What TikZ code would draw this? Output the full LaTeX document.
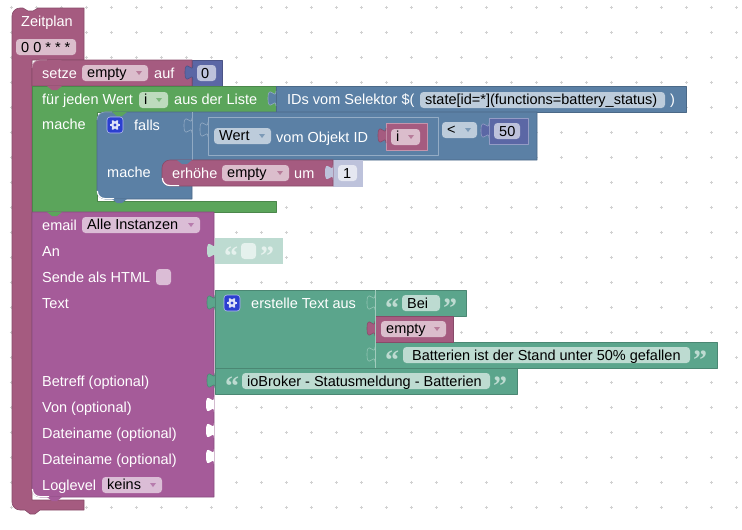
\documentclass[tikz,border=0pt]{standalone}
\usepackage{fontspec}
\setmainfont{Liberation Sans}
\newfontfamily\quotefont{Liberation Serif}
\definecolor{zeitc}{HTML}{A55B80}
\definecolor{zeitf}{HTML}{DBBDCC}
\definecolor{loopc}{HTML}{5BA55B}
\definecolor{loopf}{HTML}{BDDBBD}
\definecolor{logc}{HTML}{5B80A5}
\definecolor{logf}{HTML}{BDCCDB}
\definecolor{numc}{HTML}{5B67A5}
\definecolor{numf}{HTML}{BDC2DB}
\definecolor{numl}{HTML}{E5E7F1}
\definecolor{textc}{HTML}{5BA58C}
\definecolor{textf}{HTML}{BDDBD1}
\definecolor{textl}{HTML}{E5F1ED}
\definecolor{mailc}{HTML}{A55B99}
\definecolor{mailf}{HTML}{DBBDD6}
\definecolor{gearc}{HTML}{2B3FD0}
\tikzset{
  lbl/.style={anchor=base west,inner sep=0pt,text=white,font=\fontsize{14.5}{17}\selectfont},
  val/.style={anchor=base west,inner sep=0pt,text=black,font=\fontsize{14.5}{17}\selectfont},
  quo/.style={anchor=base west,inner sep=0pt,font=\quotefont\bfseries\fontsize{28}{28}\selectfont},
  blk/.style={fill=#1,draw=#1!82!black,line width=0.6pt,line join=round},
  lite/.style={fill=#1,draw=white!35!#1,line width=0.6pt,line join=round},
  tick/.style={draw=black!18,line width=0.6pt},
  glow/.style={draw=white,line width=1.2pt},
}
\newcommand{\pill}[5]{\fill[#5,rounded corners=3.5pt] (#1,#3) rectangle (#2,#4);}
\newcommand{\field}[7]{%
  \fill[#6,rounded corners=3.5pt] (#2,#4) rectangle (#3,#4+16);
  \node[val] (#1) at (#2+5,#4+12.5) {#5};
  \fill[#7!80!white] (#3-12,#4+6) -- (#3-6,#4+6) -- (#3-9,#4+10) -- cycle;}
\newcommand{\nub}[3]{\path[#3] (#1,#2) .. controls (#1,#2+10) and (#1-8,#2-8) .. (#1-8,#2+7.5)
  .. controls (#1-8,#2+23) and (#1,#2+5) .. (#1,#2+15);}
\newcommand{\tab}[3]{\fill[#3] (#1,#2) -- (#1+5,#2+4) -- (#1+10,#2+4) -- (#1+15,#2) -- cycle;}
\newcommand{\gear}[3]{%
  \draw[fill=gearc,draw=white!65!gearc,rounded corners=3pt,line width=0.6pt] (#2,#3) rectangle (#2+16,#3+16);
  \foreach \a in {0,60,...,300} {\draw[white!85!gearc,line width=1.8pt] (#2+8,#3+8) -- ++(\a:5.2);}
  \fill[white!85!gearc] (#2+8,#3+8) circle (3.9pt);
  \fill[gearc] (#2+8,#3+8) circle (1.7pt);
  \coordinate (#1) at (#2+8,#3+8);}
\newcommand{\quotes}[5]{%
  \node[quo,text=#5] (#1a) at (#2,#4) {“};
  \node[quo,text=#5] (#1b) at (#3,#4) {”};}
\begin{document}
\begin{tikzpicture}[x=1pt,y=-1pt]
  \useasboundingbox (0,0) rectangle (742,530);
  \foreach \x in {11,36,...,736} \foreach \y in {7,32,...,507}
    {\draw[tick] (\x-1.5,\y) -- (\x+1.5,\y) (\x,\y-1.5) -- (\x,\y+1.5);}

  \path[blk=zeitc] (12,16) .. controls (12,11.6) and (15.6,8) .. (20,8) -- (23,8) -- (28,11) -- (33,11) -- (38,8) -- (84,8) -- (84,60) -- (32,60)
    -- (32,500) -- (84,500) -- (84,510) -- (40,510) -- (35,514) -- (30,514) -- (25,510) -- (20,510) .. controls (15.6,510) and (12,506.4) .. (12,502) -- cycle;
  \node[lbl] (zeitplan) at (21,26) {Zeitplan};
  \pill{16}{76}{39}{55}{zeitf}
  \node[val] (cron) at (21,52) {0 0 * * *};

  \path[blk=numc] (192,60) rectangle (222,86);
  \path[blk=zeitc] (32,68) .. controls (32,63.6) and (35.6,60) .. (40,60) -- (192,60) -- (192,86) -- (32,86) -- cycle;
  \draw[zeitf!55!zeitc,line width=0.6pt] (32,68) .. controls (32,63.6) and (35.6,60) .. (40,60) -- (47,60);
  \tab{47}{60}{zeitc}
  \nub{193}{65}{blk=numc}
  \pill{197}{216}{65}{81}{numf}
  \node[val] (zero) at (201,78) {0};
  \node[lbl] (setze) at (42,78) {setze};
  \field{setvar}{82}{148}{65}{empty}{zeitf}{zeitc}
  \node[lbl] (auf) at (154,78) {auf};

  \path[blk=loopc] (32,86) -- (276,86) -- (276,112) -- (97,112) -- (97,201) -- (276,201) -- (276,212) -- (32,212) -- cycle;
  \tab{47}{86}{zeitc}
  \node[lbl] (jeden) at (42,104) {für jeden Wert};
  \field{loopvar}{139}{168}{92}{i}{loopf}{loopc}
  \node[lbl] (liste) at (174,104) {aus der Liste};
  \node[lbl] (mache) at (42,129) {mache};

  \path[blk=logc] (276,86) rectangle (686,112);
  \nub{276}{91}{lite=logc}
  \node[lbl] (selektor) at (287,104) {IDs vom Selektor \$(};
  \pill{420}{665}{92}{108}{logf}
  \node[val] (state) at (425,104) {state[id=*](functions=battery\_status)};
  \node[lbl] (klammer) at (670,104) {)};

  \path[blk=logc] (97,120) .. controls (97,115.6) and (100.6,112) .. (105,112) -- (537,112) -- (537,160) -- (192,160) -- (192,199) -- (105,199) .. controls (100.6,199) and (97,195.4) .. (97,191) -- cycle;
  \draw[logf!55!logc,line width=0.6pt] (97,120) .. controls (97,115.6) and (100.6,112) .. (105,112) -- (112,112);
  \tab{112}{112}{loopc}
  \tab{112}{199}{logc}
  \draw[glow] (97.4,191) .. controls (97.4,195.4) and (100.6,198.6) .. (105,198.6) -- (114,198.6);
  \draw[logf!55!logc,line width=0.6pt] (192,112) -- (192,160);
  \nub{192}{118}{lite=logc}
  \gear{gearfalls}{107}{117}
  \node[lbl] (falls) at (134,130) {falls};
  \node[lbl] (machefalls) at (107,177) {mache};

  \path[lite=logc] (208,117) rectangle (438,155);
  \nub{208}{122}{lite=logc}
  \field{wert}{214}{271}{128}{Wert}{logf}{logc}
  \node[lbl] (objekt) at (276,142) {vom Objekt ID};
  \path[lite=zeitc] (386,123) rectangle (427,150);
  \nub{386}{128}{blk=zeitc}
  \field{objvar}{391}{420}{129}{i}{zeitf}{zeitc}
  \field{vergleich}{442}{477}{122}{<}{logf}{logc}
  \path[lite=numc] (489,118) rectangle (528,144);
  \nub{489}{123}{lite=numc}
  \pill{494}{520}{123}{139}{numf}
  \node[val] (fifty) at (499,136) {50};

  \path[fill=numf,draw=numf] (333,160) rectangle (362,186);
  \path[blk=zeitc] (162,168) .. controls (162,163.6) and (165.6,160) .. (170,160) -- (333,160) -- (333,186) -- (170,186) .. controls (165.6,186) and (162,182.4) .. (162,178) -- cycle;
  \tab{177}{160}{logc}
  \draw[glow] (162.4,178) .. controls (162.4,182.4) and (165.6,185.6) .. (170,185.6) -- (179,185.6);
  \nub{333}{165}{fill=numf}
  \pill{338}{357}{165}{181}{numl}
  \node[val] (one) at (343,178) {1};
  \node[lbl] (erhoehe) at (172,178) {erhöhe};
  \field{incvar}{222}{289}{165}{empty}{zeitf}{zeitc}
  \node[lbl] (um) at (294,178) {um};

  \path[blk=mailc] (32,212) -- (214,212) -- (214,497) -- (40,497) .. controls (35.6,497) and (32,493.4) .. (32,489) -- cycle;
  \tab{47}{212}{loopc}
  \tab{47}{497}{mailc}
  \draw[glow] (32.4,489) .. controls (32.4,493.4) and (35.6,496.6) .. (40,496.6) -- (49,496.6);
  \node[lbl] (email) at (42,230) {email};
  \field{instanz}{82}{200}{217}{Alle Instanzen}{mailf}{mailc}
  \node[lbl] (an) at (42,256) {An};
  \node[lbl] (html) at (42,282) {Sende als HTML};
  \pill{156}{171}{269}{285}{mailf}
  \node[lbl] (textrow) at (42,308) {Text};
  \node[lbl] (betreff) at (42,386) {Betreff (optional)};
  \node[lbl] (von) at (42,412) {Von (optional)};
  \node[lbl] (datei) at (42,438) {Dateiname (optional)};
  \node[lbl] (dateib) at (42,464) {Dateiname (optional)};
  \node[lbl] (loglevel) at (42,490) {Loglevel};
  \field{level}{102}{162}{477}{keins}{mailf}{mailc}
  \foreach \y in {397,423,449} {\nub{214}{\y}{fill=white}}

  \path[fill=textf] (215,238) rectangle (283,264);
  \nub{215}{243}{fill=textf}
  \quotes{anq}{224}{260}{265}{textl}
  \pill{241}{256}{243}{259}{textl}

  \path[blk=textc] (215,290) rectangle (375,368);
  \nub{215}{295}{blk=textc}
  \gear{geartext}{224}{295}
  \node[lbl] (erstelle) at (251,308) {erstelle Text aus};

  \path[blk=textc] (375,290) rectangle (466,316);
  \nub{375}{295}{lite=textc}
  \quotes{beiq}{385}{443}{317}{textf}
  \pill{402}{440}{295}{311}{textf}
  \node[val] (bei) at (407,308) {Bei};

  \path[blk=textc] (375,342) rectangle (717,368);
  \nub{375}{347}{lite=textc}
  \quotes{batq}{385}{693}{369}{textf}
  \pill{403}{690}{347}{363}{textf}
  \node[val] (batterien) at (412,360) {Batterien ist der Stand unter 50\% gefallen};

  \path[blk=zeitc] (375,316) rectangle (453,342);
  \nub{375}{321}{blk=zeitc}
  \field{textvar}{381}{446}{321}{empty}{zeitf}{zeitc}

  \draw[textf!70!textc,line width=0.6pt] (375,290) -- (375,368);

  \path[blk=textc] (215,368) rectangle (517,394);
  \nub{215}{373}{blk=textc}
  \quotes{subq}{225}{493}{395}{textf}
  \pill{242}{490}{373}{389}{textf}
  \node[val] (betr) at (247,386) {ioBroker - Statusmeldung - Batterien};
\end{tikzpicture}
\end{document}
